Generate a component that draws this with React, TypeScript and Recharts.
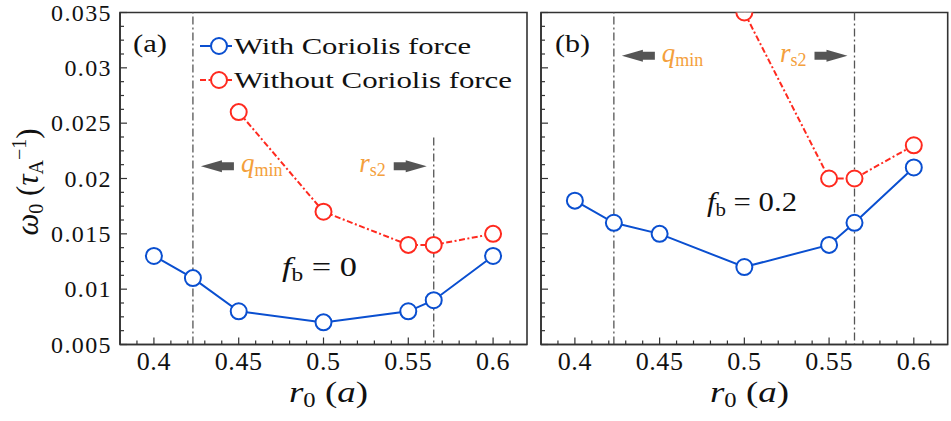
import React from "react";
import {
  LineChart,
  Line,
  XAxis,
  YAxis,
  ReferenceLine,
  ReferenceArea,
  ReferenceDot,
} from "recharts";

const r0 = [0.4, 0.423, 0.45, 0.5, 0.55, 0.565, 0.6];
const withCoriolisA = [0.013, 0.011, 0.008, 0.007, 0.008, 0.009, 0.013];
const withoutCoriolisA = [null, null, 0.026, 0.017, 0.014, 0.014, 0.015];
const withCoriolisB = [0.018, 0.016, 0.015, 0.012, 0.014, 0.016, 0.021];
const withoutCoriolisB = [null, null, null, 0.035, 0.02, 0.02, 0.023];

const qMin = 0.423;
const rS2 = 0.565;

const xMajor = [0.4, 0.45, 0.5, 0.55, 0.6];
const xMajorLabels = ["0.4", "0.45", "0.5", "0.55", "0.6"];
const yMajor = [0.005, 0.01, 0.015, 0.02, 0.025, 0.03, 0.035];
const yMajorLabels = ["0.005", "0.01", "0.015", "0.02", "0.025", "0.03", "0.035"];

const xDomain = [0.38, 0.62];
const yDomain = [0.005, 0.035];

// minor ticks: 0.01 on x, 0.00125 on y
const xAllTicks = Array.from({ length: 23 }, (_, i) => (39 + i) / 100);
const yAllTicks = Array.from({ length: 25 }, (_, i) => 0.005 + i * 0.00125);

const BLUE = "#0a4fd0";
const RED = "#ff2a1f";
const ORANGE = "#f4a03c";
const GREY = "#555555";
const AXIS = "#333333";
const FONT = "'Liberation Serif', 'Times New Roman', serif";

const buildRows = (blue: (number | null)[], red: (number | null)[]) =>
  r0.map((r, i) => ({ r, blue: blue[i], red: red[i] }));

const dataA = buildRows(withCoriolisA, withoutCoriolisA);
const dataB = buildRows(withCoriolisB, withoutCoriolisB);

const near = (a: number, b: number) => Math.abs(a - b) < 1e-7;

function XTick(props: any) {
  const { x, y, payload } = props;
  const i = xMajor.findIndex((t) => near(t, payload.value));
  const major = i >= 0;
  return (
    <g>
      <line x1={x} x2={x} y1={y} y2={y - (major ? 7 : 4)} stroke={AXIS} strokeWidth={1.2} />
      {major && (
        <text x={x} y={y + 25} textAnchor="middle" style={{ fontFamily: FONT, letterSpacing: 0.6 }} fontSize={26} fill="#111">
          {xMajorLabels[i]}
        </text>
      )}
    </g>
  );
}

function makeYTick(showLabels: boolean) {
  return function YTick(props: any) {
    const { x, y, payload } = props;
    const i = yMajor.findIndex((t) => near(t, payload.value));
    const major = i >= 0;
    return (
      <g>
        <line x1={x} x2={x + (major ? 7 : 4)} y1={y} y2={y} stroke={AXIS} strokeWidth={1.2} />
        {major && showLabels && (
          <text
            x={x - 8}
            y={y}
            dy="0.34em"
            textAnchor="end"
            style={{ fontFamily: FONT, letterSpacing: 1.4 }}
            fontSize={24}
            fill="#111"
          >
            {yMajorLabels[i]}
          </text>
        )}
      </g>
    );
  };
}

function QminMark(props: any) {
  const { cx, cy } = props;
  const a = cx + 8;
  return (
    <g>
      <polygon
        points={`${a},${cy} ${a + 21},${cy - 6} ${a + 21},${cy - 4} ${a + 33},${cy - 4} ${a + 33},${cy + 4} ${a + 21},${cy + 4} ${a + 21},${cy + 6}`}
        fill={GREY}
      />
      <text x={cx + 48} y={cy + 6} style={{ fontFamily: FONT }} fill={ORANGE} fontSize={27}>
        <tspan fontStyle="italic">q</tspan>
        <tspan fontSize={18} dy={4}>min</tspan>
      </text>
    </g>
  );
}

function Rs2Mark(props: any) {
  const { cx, cy } = props;
  const a = cx - 7;
  return (
    <g>
      <polygon
        points={`${a},${cy} ${a - 21},${cy - 6} ${a - 21},${cy - 4} ${a - 33},${cy - 4} ${a - 33},${cy + 4} ${a - 21},${cy + 4} ${a - 21},${cy + 6}`}
        fill={GREY}
      />
      <text x={cx - 48} y={cy + 6} textAnchor="end" style={{ fontFamily: FONT }} fill={ORANGE} fontSize={27}>
        <tspan fontStyle="italic">r</tspan>
        <tspan fontSize={18} dy={4}>s2</tspan>
      </text>
    </g>
  );
}

type PanelProps = {
  data: { r: number; blue: number | null; red: number | null }[];
  width: number;
  marginLeft: number;
  yAxisWidth: number;
  marginRight: number;
  showYLabels: boolean;
  annotY: number;
  rs2Top: number;
};

function Panel({ data, width, marginLeft, yAxisWidth, marginRight, showYLabels, annotY, rs2Top }: PanelProps) {
  return (
    <LineChart
      width={width}
      height={421}
      data={data}
      margin={{ top: 12.5, right: marginRight, left: marginLeft, bottom: 36.5 }}
    >
      <XAxis
        dataKey="r"
        type="number"
        domain={xDomain}
        allowDataOverflow
        ticks={xAllTicks}
        interval={0}
        tick={<XTick />}
        tickLine={false}
        tickSize={0}
        tickMargin={0}
        height={40}
        axisLine={{ stroke: AXIS, strokeWidth: 1.6 }}
      />
      <YAxis
        type="number"
        domain={yDomain}
        allowDataOverflow
        ticks={yAllTicks}
        interval={0}
        tick={makeYTick(showYLabels)}
        tickLine={false}
        tickSize={0}
        tickMargin={0}
        width={yAxisWidth}
        axisLine={{ stroke: AXIS, strokeWidth: 1.6 }}
      />
      <ReferenceArea
        x1={xDomain[0]}
        x2={xDomain[1]}
        y1={yDomain[0]}
        y2={yDomain[1]}
        fill="none"
        stroke={AXIS}
        strokeWidth={1.6}
      />
      <Line
        dataKey="blue"
        stroke={BLUE}
        strokeWidth={2}
        dot={{ r: 8, fill: "#fff", stroke: BLUE, strokeWidth: 2 }}
        isAnimationActive={false}
      />
      <Line
        dataKey="red"
        stroke={RED}
        strokeWidth={2}
        strokeDasharray="6 2.5 2 2.5"
        dot={{ r: 8, fill: "#fff", stroke: RED, strokeWidth: 2, strokeDasharray: "" }}
        isAnimationActive={false}
      />
      <ReferenceLine x={qMin} stroke={GREY} strokeWidth={1.3} strokeDasharray="8 3 2 3" />
      <ReferenceLine
        segment={[
          { x: rS2, y: rs2Top },
          { x: rS2, y: yDomain[0] },
        ]}
        stroke={GREY}
        strokeWidth={1.3}
        strokeDasharray="8 3 2 3"
      />
      <ReferenceDot x={qMin} y={annotY} shape={<QminMark />} />
      <ReferenceDot x={rS2} y={annotY} shape={<Rs2Mark />} />
    </LineChart>
  );
}

function LegendRow({ y, color, dashed, label, len }: { y: number; color: string; dashed: boolean; label: string; len: number }) {
  return (
    <g>
      <line x1={200} x2={232} y1={y} y2={y} stroke={color} strokeWidth={2} strokeDasharray={dashed ? "6 2.5 2 2.5" : undefined} />
      <circle cx={219} cy={y} r={8} fill="#fff" stroke={color} strokeWidth={2} />
      <text x={234} y={y + 8} fontSize={24} fill="#111" textLength={len} lengthAdjust="spacingAndGlyphs">
        {label}
      </text>
    </g>
  );
}

function RLabel({ x }: { x: number }) {
  return (
    <text x={x} y={402} fontSize={30} fill="#111" textLength={79} lengthAdjust="spacingAndGlyphs">
      <tspan fontStyle="italic">r</tspan>
      <tspan fontSize={20} dy={5}>0</tspan>
      <tspan dy={-5}> (</tspan>
      <tspan fontStyle="italic">a</tspan>
      <tspan>)</tspan>
    </text>
  );
}

function FbLabel({ x, y, value, len }: { x: number; y: number; value: string; len: number }) {
  return (
    <text x={x} y={y} fontSize={28} fill="#111" textLength={len} lengthAdjust="spacingAndGlyphs">
      <tspan fontStyle="italic">f</tspan>
      <tspan fontSize={19} dy={5}>b</tspan>
      <tspan dy={-5}> = {value}</tspan>
    </text>
  );
}

export default function App() {
  return (
    <div style={{ position: "absolute", left: 0, top: 0, width: 951, height: 421, background: "#fff" }}>
      <div style={{ position: "absolute", left: 0, top: 0 }}>
        <Panel
          data={dataA}
          width={540}
          marginLeft={10}
          yAxisWidth={110}
          marginRight={13}
          showYLabels
          annotY={0.0211}
          rs2Top={0.0237}
        />
      </div>
      <div style={{ position: "absolute", left: 530, top: 0 }}>
        <Panel
          data={dataB}
          width={421}
          marginLeft={1}
          yAxisWidth={10}
          marginRight={3.3}
          showYLabels={false}
          annotY={0.0311}
          rs2Top={yDomain[1]}
        />
      </div>
      <svg
        width={951}
        height={421}
        style={{ position: "absolute", left: 0, top: 0, pointerEvents: "none", fontFamily: FONT }}
      >
        <LegendRow y={46} color={BLUE} dashed={false} label="With Coriolis force" len={237} />
        <LegendRow y={80} color={RED} dashed label="Without Coriolis force" len={278} />

        <text x={133} y={52} fontSize={25} fill="#111" textLength={34} lengthAdjust="spacingAndGlyphs">(a)</text>
        <text x={555} y={52} fontSize={25} fill="#111" textLength={35} lengthAdjust="spacingAndGlyphs">(b)</text>

        <FbLabel x={282} y={276} value="0" len={75} />
        <FbLabel x={707} y={211} value="0.2" len={90} />

        <RLabel x={289} />
        <RLabel x={710} />

        <text x={38} y={182} textAnchor="middle" fontSize={31} fill="#111" transform="rotate(-90 38 182)">
          <tspan fontStyle="italic">ω</tspan>
          <tspan fontSize={20} dy={5}>0</tspan>
          <tspan dy={-5}> (</tspan>
          <tspan fontStyle="italic">τ</tspan>
          <tspan fontSize={20} dy={5}>A</tspan>
          <tspan fontSize={20} dy={-17}>−1</tspan>
          <tspan dy={12}>)</tspan>
        </text>
      </svg>
    </div>
  );
}
